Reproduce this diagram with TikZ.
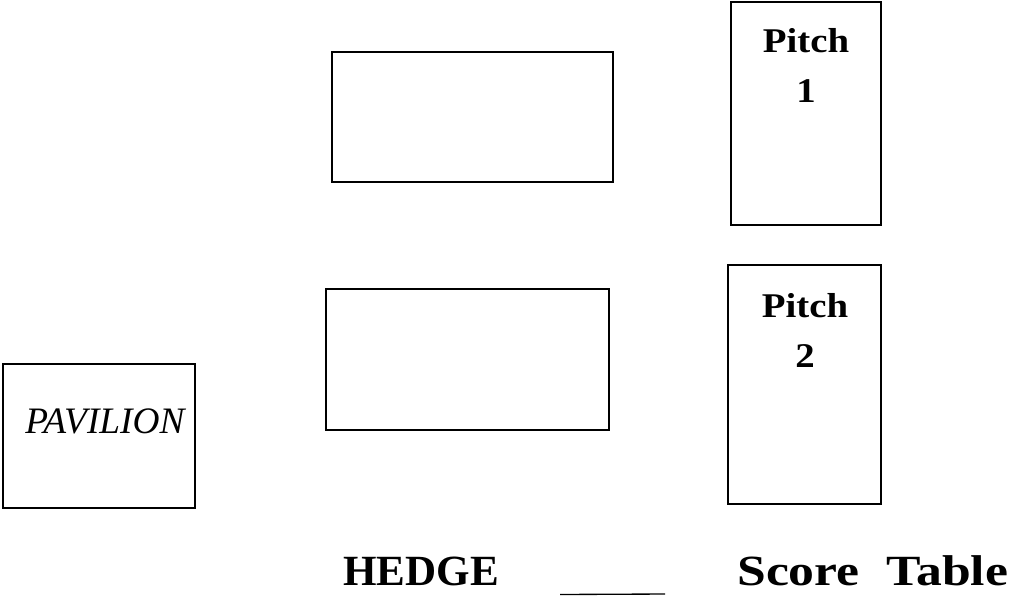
\documentclass[tikz,border=0pt]{standalone}
\usepackage{fontspec}
\setmainfont{Liberation Serif}
\newfontfamily\widebf[FakeStretch=1.2]{Liberation Serif}
\newfontfamily\pitchbf[FakeStretch=1.12]{Liberation Serif}
\tikzset{
  plot/.style={draw, line width=0.9pt, inner sep=0pt},
  big/.style={font=\fontsize{32.3}{37}\selectfont\bfseries, inner sep=0pt},
  pitchtxt/.style={font=\fontsize{26}{37.5}\selectfont\pitchbf\bfseries, align=center, inner sep=0pt}
}
\begin{document}
\begin{tikzpicture}[x=0.75pt,y=-0.75pt]
  \useasboundingbox (0,0) rectangle (1027,596);
  % plots
  \node[plot, minimum width=210.75pt, minimum height=97.5pt] (upper) at (472.5,117) {};
  \node[plot, minimum width=212.25pt, minimum height=105.75pt] (lower) at (467.5,359.5) {};
  \node[plot, minimum width=112.5pt, minimum height=167.25pt] (pitch1) at (806,113.5) {};
  \node[plot, minimum width=114.75pt, minimum height=179.25pt] (pitch2) at (804.5,384.5) {};
  \node[plot, minimum width=144pt, minimum height=108pt] (pav) at (99,436) {};
  % labels
  \node[pitchtxt, anchor=base] (p1txt) at (806,102) {Pitch\\1};
  \node[pitchtxt, anchor=base] (p2txt) at (805,367) {Pitch\\2};
  \node[font=\fontsize{28}{32}\selectfont\itshape, inner sep=0pt, anchor=base west] (pavtxt) at (25,433) {PAVILION};
  \node[big, anchor=base west] (hedge) at (343,585) {HEDGE};
  \node[big, font={\fontsize{32.3}{37}\selectfont\widebf\bfseries}, anchor=base west] (score) at (737,585) {Score\hspace{20pt}Table};
  \draw[line width=1pt] (560,594.5) -- (665,594);
\end{tikzpicture}
\end{document}
